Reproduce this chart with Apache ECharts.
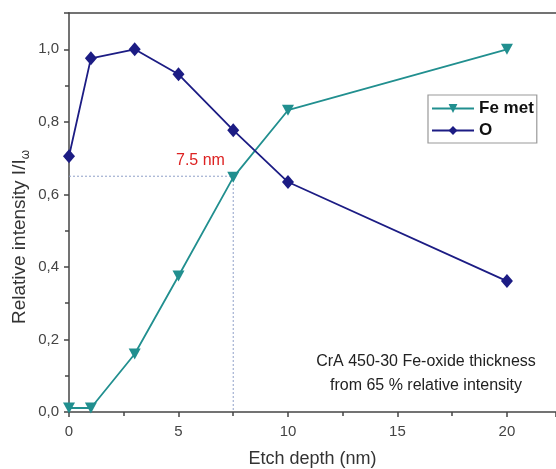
<!DOCTYPE html>
<html>
<head>
<meta charset="utf-8">
<style>
  html, body { margin: 0; padding: 0; background: #fff; }
  #main { width: 556px; height: 469px; }
</style>
</head>
<body>
<div id="main"></div>
<script src="https://cdn.jsdelivr.net/npm/echarts@6/dist/echarts.min.js"></script>
<script>
// etch depth (nm)
var depth = [0, 1, 3, 5, 7.5, 10, 20];
// relative intensities
var feMet = [0.011, 0.011, 0.16, 0.375, 0.647, 0.832, 1.0];
var oxygen = [0.705, 0.975, 1.0, 0.931, 0.777, 0.634, 0.361];
// 65 % guide lines
var guideX = [0, 7.5, 7.5];
var guideY = [0.65, 0.65, 0];

var xTicks = [0, 5, 10, 15, 20];
var yTicks = [0, 0.2, 0.4, 0.6, 0.8, 1.0];

function pairs(xs, ys) {
    var out = [];
    for (var i = 0; i < xs.length; i++) out.push([xs[i], ys[i]]);
    return out;
}

var axisCol = '#454545';
var downTri = 'path://M0,0 L10,0 L5,9 Z';
var font = 'Liberation Sans';

var myChart = echarts.init(document.getElementById('main'));

var option = {
    animation: false,
    grid: { left: 69, top: 13, right: 0, bottom: 57, outerBoundsMode: 'none' },
    legend: {
        left: 428, top: 95,
        orient: 'vertical',
        data: ['Fe met', 'O'],
        itemWidth: 42, itemHeight: 11, itemGap: 5,
        padding: [5, 3, 4, 3],
        borderColor: '#999', borderWidth: 1.2,
        backgroundColor: '#fff',
        textStyle: { fontFamily: font, fontWeight: 'bold', fontSize: 17, color: '#111' }
    },
    xAxis: [{
        type: 'value', min: 0, max: 22.24, interval: 5,
        name: 'Etch depth (nm)', nameLocation: 'middle', nameGap: 38,
        nameTextStyle: { fontFamily: font, fontSize: 18, color: '#333' },
        axisLine: { lineStyle: { color: axisCol, width: 1.5 } },
        axisTick: { inside: false, length: 5, lineStyle: { color: axisCol, width: 1.5 } },
        minorTick: { show: true, splitNumber: 2, length: 4, lineStyle: { color: axisCol, width: 1.5 } },
        splitLine: { show: false },
        axisLabel: {
            showMaxLabel: false, margin: 12,
            fontFamily: font, fontSize: 15, color: '#444',
            formatter: function (v) { return xTicks.indexOf(v) >= 0 ? String(v) : ''; }
        }
    }, {
        type: 'value', position: 'top', min: 0, max: 22.24,
        axisLine: { lineStyle: { color: axisCol, width: 1.5 } },
        axisTick: { show: false }, axisLabel: { show: false }, splitLine: { show: false }
    }],
    yAxis: {
        type: 'value', min: 0, max: 1.1, interval: 0.2,
        axisLine: { lineStyle: { color: axisCol, width: 1.5 } },
        axisTick: { inside: false, length: 5, lineStyle: { color: axisCol, width: 1.5 } },
        minorTick: { show: true, splitNumber: 2, length: 4, lineStyle: { color: axisCol, width: 1.5 } },
        splitLine: { show: false },
        axisLabel: {
            showMaxLabel: false, margin: 10,
            fontFamily: font, fontSize: 15, color: '#444',
            formatter: function (v) {
                for (var i = 0; i < yTicks.length; i++) {
                    if (Math.abs(yTicks[i] - v) < 1e-6) return v.toFixed(1).replace('.', ',');
                }
                return '';
            }
        }
    },
    series: [
        {
            name: 'guide', type: 'line',
            data: pairs(guideX, guideY),
            symbol: 'none', silent: true, z: 1,
            lineStyle: { color: '#8fa0c8', width: 1, type: [2, 2] }
        },
        {
            name: 'Fe met', type: 'line',
            data: pairs(depth, feMet),
            symbol: downTri, symbolSize: [12, 11],
            color: '#218f8f',
            lineStyle: { width: 1.8 },
            itemStyle: { color: '#218f8f' }
        },
        {
            name: 'O', type: 'line',
            data: pairs(depth, oxygen),
            symbol: 'diamond', symbolSize: [12, 14],
            color: '#1c1c84',
            lineStyle: { width: 1.8 },
            itemStyle: { color: '#1c1c84' }
        }
    ],
    graphic: [
        {
            type: 'text', x: 20, y: 237, rotation: Math.PI / 2,
            style: {
                text: '{n|Relative intensity I/I}{s|ω}',
                align: 'center', verticalAlign: 'middle',
                rich: {
                    n: { fontFamily: font, fontSize: 19, fill: '#333' },
                    s: { fontFamily: font, fontSize: 12, fill: '#333', padding: [11, 0, 0, 0] }
                }
            }
        },
        {
            type: 'text', left: 176, top: 153,
            style: { text: '7.5 nm', font: '16px "Liberation Sans"', fill: '#dd2222' }
        },
        {
            type: 'text', x: 426, y: 350,
            style: {
                text: 'CrA 450-30 Fe-oxide thickness\nfrom 65 % relative intensity',
                font: '16px "Liberation Sans"', fill: '#222', align: 'center', lineHeight: 24
            }
        }
    ]
};

myChart.setOption(option);
</script>
</body>
</html>
